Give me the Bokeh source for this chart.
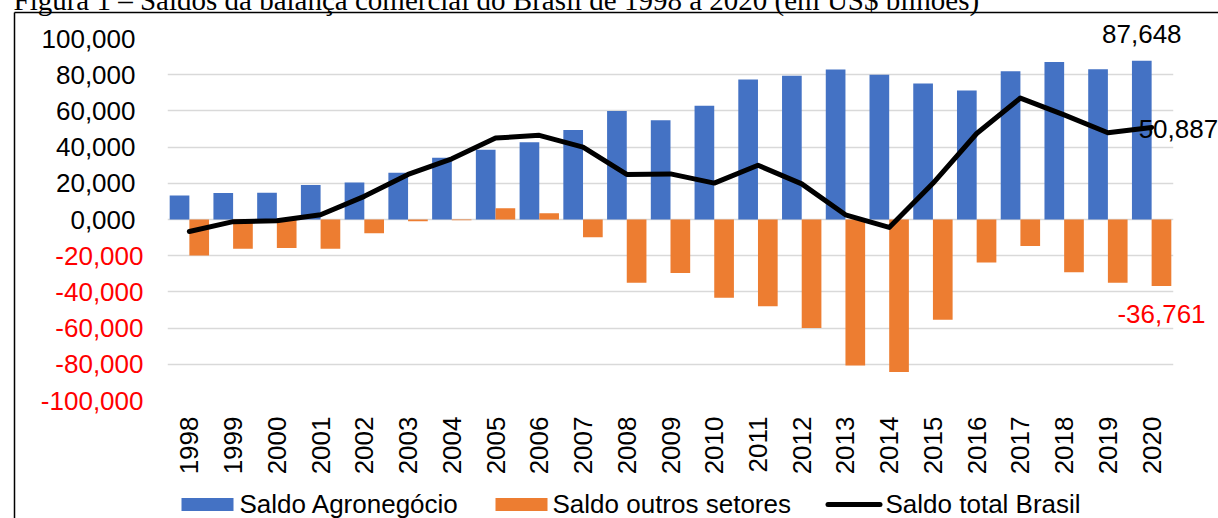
import math
from bokeh.plotting import figure
from bokeh.models import ColumnDataSource, FactorRange, Range1d, FixedTicker
from bokeh.core.properties import value
from bokeh.transform import dodge
from bokeh.embed import file_html
from bokeh.resources import INLINE

# ---------------- data (US$ bilhões) ----------------
years = [str(y) for y in range(1998, 2021)]
agro = [13.3, 14.7, 14.8, 19.0, 20.4, 25.8, 34.1, 38.5, 42.7, 49.5, 60.0, 54.8,
        62.9, 77.4, 79.4, 82.9, 80.0, 75.1, 71.3, 81.9, 87.0, 83.0, 87.648]
outros = [-19.9, -16.2, -15.7, -16.2, -7.6, -0.9, -0.4, 6.2, 3.5, -9.8, -35.0, -29.6,
          -43.3, -47.9, -60.0, -80.7, -84.3, -55.4, -23.8, -14.7, -29.1, -35.0, -36.761]
total = [-6.6, -1.2, -0.7, 2.6, 12.8, 24.9, 33.5, 45.0, 46.5, 40.0, 24.9, 25.2,
         20.1, 30.0, 19.7, 2.6, -4.4, 20.0, 47.5, 67.1, 57.8, 47.9, 50.887]
y_ticks = [-100, -80, -60, -40, -20, 0, 20, 40, 60, 80, 100]
series_names = ["Saldo Agronegócio", "Saldo outros setores", "Saldo total Brasil"]
title_text = "Figura 1 – Saldos da balança comercial do Brasil de 1998 a 2020 (em US$ bilhões)"


def fmt(v):
    return f"{v:,.3f}".replace(",", "X").replace(".", ",").replace("X", ".")


BLUE = "#4472C4"
ORANGE = "#ED7D31"
GRID = "#D9D9D9"
FONT = "Liberation Sans"
FS = "26px"

# layout (pixels)
FRAME_L, FRAME_T, FRAME_W, FRAME_H = 167, 38, 1006, 362

src = ColumnDataSource(dict(year=years, agro=agro, outros=outros, total=total))

p = figure(x_range=FactorRange(*years), y_range=Range1d(y_ticks[0], y_ticks[-1]),
           width=1218, height=518,
           frame_width=FRAME_W, frame_height=FRAME_H,
           min_border_left=FRAME_L, min_border_right=1218 - FRAME_L - FRAME_W,
           min_border_top=FRAME_T, min_border_bottom=518 - FRAME_T - FRAME_H,
           output_backend="svg", toolbar_location=None)
p.outline_line_color = None
p.background_fill_color = "white"
p.border_fill_color = "white"

r_agro = p.vbar(x=dodge("year", -0.225, range=p.x_range), top="agro", width=0.45,
                source=src, fill_color=BLUE, line_color=None)
r_out = p.vbar(x=dodge("year", 0.225, range=p.x_range), top="outros", width=0.45,
               source=src, fill_color=ORANGE, line_color=None)
r_tot = p.line(x="year", y="total", source=src, line_color="black", line_width=5,
               line_join="round", line_cap="round")

# axes
p.xgrid.grid_line_color = None
p.ygrid.grid_line_color = GRID
p.ygrid.grid_line_width = 1.5
p.yaxis.ticker = FixedTicker(ticks=y_ticks)
p.yaxis.major_label_overrides = {t: (fmt(t) if t >= 0 else "") for t in y_ticks}
for ax in (p.xaxis[0], p.yaxis[0]):
    ax.axis_line_color = None
    ax.major_tick_line_color = None
    ax.minor_tick_line_color = None
    ax.major_tick_out = 0
    ax.major_tick_in = 0
    ax.major_label_text_font = FONT
    ax.major_label_text_font_size = FS
    ax.major_label_text_color = "black"
p.yaxis.major_label_standoff = 32
p.xaxis.major_label_orientation = math.pi / 2
p.xaxis.major_label_standoff = 16

# helpers: page pixel -> plot coordinates (for decorations outside the plot area)
cat_px = FRAME_W / len(years)
px_per_y = FRAME_H / (y_ticks[-1] - y_ticks[0])


def px2x(px):
    return (px - FRAME_L) / cat_px


def py2y(py):
    return y_ticks[-1] - (py - FRAME_T) / px_per_y


# negative tick labels in red (drawn unclipped, next to the axis)
neg = [t for t in y_ticks if t < 0]
neg_src = ColumnDataSource(dict(x=[years[0]] * len(neg), y=neg, text=[fmt(t) for t in neg]))
p.text(x=dodge("x", -0.5, range=p.x_range), y="y", text="text", source=neg_src,
       x_offset=-24, text_align="right", text_baseline="middle",
       text_font=value(FONT), text_font_size=FS, text_color="red", level="overlay")

# data labels for 2020
last = years[-1]
lab_a = ColumnDataSource(dict(x=[last], y=[agro[-1]], text=[fmt(agro[-1])]))
p.text(x=dodge("x", -0.225, range=p.x_range), y="y", text="text", source=lab_a,
       y_offset=-26.5, text_align="center", text_baseline="middle",
       text_font=value(FONT), text_font_size=FS, text_color="black", level="overlay")
lab_o = ColumnDataSource(dict(x=[last], y=[outros[-1]], text=[fmt(outros[-1])]))
p.text(x=dodge("x", 0.225, range=p.x_range), y="y", text="text", source=lab_o,
       y_offset=27.5, text_align="center", text_baseline="middle",
       text_font=value(FONT), text_font_size=FS, text_color="red", level="overlay")
lab_t = ColumnDataSource(dict(x=[last], y=[total[-1]], text=[fmt(total[-1])]))
p.text(x="x", y="y", text="text", source=lab_t,
       x_offset=-13, y_offset=2, text_align="left", text_baseline="middle",
       text_font=value(FONT), text_font_size=FS, text_color="black", level="overlay")

# legend row under the year labels: (swatch left, swatch right, text left) in page px
leg_px = [(181, 233, 239), (495, 547, 552), (825, 882, 885)]
leg_y = py2y(504)
p.rect(x=[px2x((a + b) / 2) for a, b, _ in leg_px[:2]], y=[leg_y, leg_y],
       width=[leg_px[0][1] - leg_px[0][0], leg_px[1][1] - leg_px[1][0]], height=13,
       width_units="screen", height_units="screen",
       fill_color=[BLUE, ORANGE], line_color=None, level="overlay")
p.segment(x0=[px2x(leg_px[2][0] + 2.5)], y0=[leg_y], x1=[px2x(leg_px[2][1] - 2.5)], y1=[leg_y],
          line_color="black", line_width=5, line_cap="round", level="overlay")
p.text(x=[px2x(c) for _, _, c in leg_px], y=[py2y(503.5)] * 3, text=series_names,
       text_align="left", text_baseline="middle",
       text_font=value(FONT), text_font_size=FS, text_color="black", level="overlay")

# chart border (frame of the figure) and the cut caption above it
bx = px2x(14)
by = py2y(12)
p.segment(x0=[bx, bx], y0=[by, by], x1=[bx, px2x(1400)], y1=[py2y(700), by],
          line_color="black", line_width=1.5, level="overlay")
cap_src = ColumnDataSource(dict(x=[years[0]], y=[y_ticks[-1]], text=[title_text]))
p.text(x=dodge("x", -0.5, range=p.x_range), y="y", text="text", source=cap_src,
       x_offset=-154, y_offset=-39, text_align="left", text_baseline="alphabetic",
       text_font=value("Liberation Serif"), text_font_size="29px", text_color="black",
       level="overlay")

open("out.html", "w").write(file_html(p, INLINE))
